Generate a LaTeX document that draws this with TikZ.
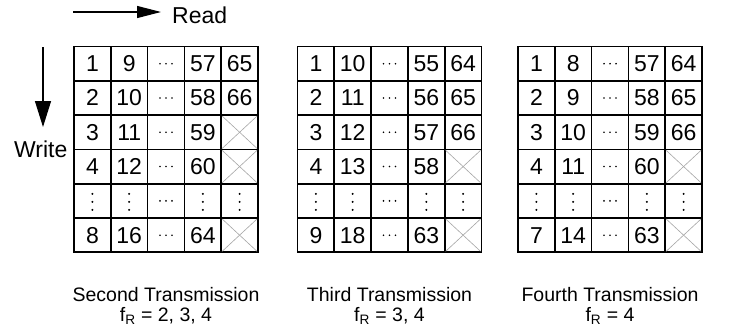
\documentclass[tikz,border=0pt]{standalone}
\usepackage{fontspec}
\setmainfont{Liberation Sans}
\usetikzlibrary{arrows.meta}
\tikzset{
  cellbox/.style={draw, line width=1.7pt, minimum width=36.8pt, minimum height=34.3pt,
    inner sep=0pt, outer sep=0pt, font=\fontsize{23}{23}\selectfont},
  xline/.style={draw=black!35, line width=0.6pt},
  capt/.style={anchor=base, inner sep=0pt, font=\fontsize{19.5}{19.5}\selectfont},
  bigtxt/.style={inner sep=0pt, font=\fontsize{23}{23}\selectfont},
  dirarrow/.style={line width=1.2pt}
}
\newcommand\mygrid[3]{%
  \foreach \row [count=\r] in {#3} {
    \foreach \v [count=\c] in \row {
      \node[cellbox] (g#1-\r-\c) at ({#2+(\c-0.5)*36.8},{46.5+(\r-0.5)*34.3}) {\v};
    }
  }
}
\newcommand\mycross[2]{%
  \draw[xline] ([xshift=1pt,yshift=-1pt]#1-#2.north west) -- ([xshift=-1pt,yshift=1pt]#1-#2.south east);
  \draw[xline] ([xshift=-1pt,yshift=-1pt]#1-#2.north east) -- ([xshift=1pt,yshift=1pt]#1-#2.south west);
}
\begin{document}
\begin{tikzpicture}[x=1pt,y=-1pt]
\useasboundingbox (0,0) rectangle (732,330);
\fill[white] (0,0) rectangle (732,330);

% direction arrows
\coordinate (rs) at (73,12);
\coordinate (re) at (161,12);
\draw[dirarrow,-{Triangle[length=24pt,width=12pt]}] (rs) -- (re);
\node[bigtxt, anchor=base west] (read) at (172,23) {Read};
\coordinate (ws) at (43,47);
\coordinate (we) at (43,127);
\draw[dirarrow,-{Triangle[length=26pt,width=16pt]}] (ws) -- (we);
\node[bigtxt, anchor=base east] (write) at (67.5,157.7) {Write};

% grids
\mygrid{1}{74}{{1,9,{},57,65},{2,10,{},58,66},{3,11,{},59,{}},{4,12,{},60,{}},{{},{},{},{},{}},{8,16,{},64,{}}}
\mygrid{2}{297.5}{{1,10,{},55,64},{2,11,{},56,65},{3,12,{},57,66},{4,13,{},58,{}},{{},{},{},{},{}},{9,18,{},63,{}}}
\mygrid{3}{518}{{1,8,{},57,64},{2,9,{},58,65},{3,10,{},59,66},{4,11,{},60,{}},{{},{},{},{},{}},{7,14,{},63,{}}}

% dots
\foreach \g in {1,2,3} {
  \foreach \r in {1,...,6} {
    \foreach \d in {-6,0,6}
      \fill ([xshift=\d pt]g\g-\r-3.center) circle (0.9pt);
  }
  \foreach \c in {1,2,4,5} {
    \foreach \d in {7,-1,-9}
      \fill ([yshift=\d pt]g\g-5-\c.center) circle (1.1pt);
  }
}

\mycross{g1}{3-5}
\mycross{g1}{4-5}
\mycross{g1}{6-5}
\mycross{g2}{4-5}
\mycross{g2}{6-5}
\mycross{g3}{4-5}
\mycross{g3}{6-5}

% captions
\node[capt] (c1a) at (166,301) {Second Transmission};
\node[capt] (c1b) at (166,321) {f\textsubscript{R} = 2, 3, 4};
\node[capt] (c2a) at (389.5,301) {Third Transmission};
\node[capt] (c2b) at (389.5,321) {f\textsubscript{R} = 3, 4};
\node[capt] (c3a) at (610,301) {Fourth Transmission};
\node[capt] (c3b) at (610,321) {f\textsubscript{R} = 4};
\end{tikzpicture}
\end{document}
